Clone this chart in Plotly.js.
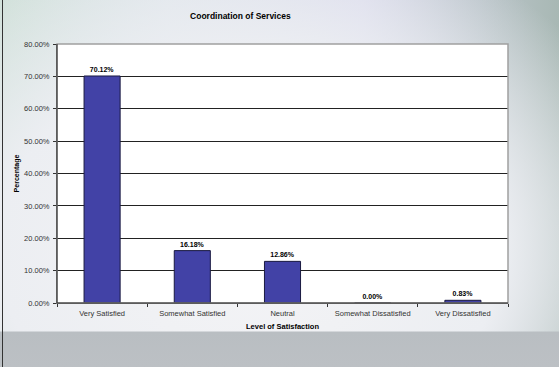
<!DOCTYPE html>
<html>
<head>
<meta charset="utf-8">
<script src="https://cdn.plot.ly/plotly-3.0.1.min.js"></script>
<style>
html,body{margin:0;padding:0;}
body{width:559px;height:367px;overflow:hidden;position:relative;
background:
 linear-gradient(to bottom, rgba(0,0,0,0) 0px, rgba(0,0,0,0) 331px, #b9bec2 332px, #bcc0c4 367px),
 radial-gradient(ellipse 420px 330px at 250px 250px, #f4f4f6 0%, #eceef2 60%, rgba(236,238,242,0) 100%),
 linear-gradient(to right, #cfe0d8 0%, #dde4ea 30%, #d8d8ec 65%, #a8b8b4 100%);
}
#leftline{position:absolute;left:2px;top:0;width:1px;height:367px;background:#333;}
#chart{position:absolute;left:0;top:0;width:559px;height:367px;}
</style>
</head>
<body>
<div id="leftline"></div>
<div id="chart"></div>
<script>
var categories = ["Very Satisfied", "Somewhat Satisfied", "Neutral", "Somewhat Dissatisfied", "Very Dissatisfied"];
var values = [70.12, 16.18, 12.86, 0.00, 0.83];
var labels = ["70.12%", "16.18%", "12.86%", "0.00%", "0.83%"];
var yTickVals = [0, 10, 20, 30, 40, 50, 60, 70, 80];
var yTickText = ["0.00%", "10.00%", "20.00%", "30.00%", "40.00%", "50.00%", "60.00%", "70.00%", "80.00%"];

var trace = {
  type: "bar",
  x: categories,
  y: values,
  text: labels,
  textposition: "outside",
  cliponaxis: false,
  textfont: {family: "Liberation Sans, Arial, sans-serif", size: 7, color: "#000", weight: "bold"},
  marker: {color: "#4242A6", line: {color: "#1a1a40", width: 1}},
  hoverinfo: "none"
};

var layout = {
  width: 559, height: 367,
  margin: {l: 57, r: 51, t: 44, b: 64, pad: 0},
  paper_bgcolor: "rgba(0,0,0,0)",
  plot_bgcolor: "#ffffff",
  bargap: 0.6,
  showlegend: false,
  font: {family: "Liberation Sans, Arial, sans-serif", size: 7, color: "#000"},
  title: {text: "<b>Coordination of Services</b>", font: {size: 8.5, color: "#000"},
          x: 0.43, xref: "container", xanchor: "center", y: 0.955, yref: "container", yanchor: "middle"},
  xaxis: {
    type: "category",
    showgrid: false,
    ticks: "outside", ticklen: 3, tickcolor: "#333", tickson: "boundaries",
    ticklabelstandoff: 3,
    showline: true, linecolor: "#333", linewidth: 1, mirror: false,
    tickfont: {size: 7.5, color: "#333"},
    title: {text: "<b>Level of Satisfaction</b>", font: {size: 7.5, color: "#000"}, standoff: 6}
  },
  yaxis: {
    range: [0, 80],
    tickvals: yTickVals, ticktext: yTickText,
    ticks: "outside", ticklen: 3, tickcolor: "#333",
    ticklabelstandoff: 2,
    showgrid: true, gridcolor: "#222", gridwidth: 1,
    showline: true, linecolor: "#333", linewidth: 1,
    zeroline: false,
    tickfont: {size: 7.5, color: "#333"},
    title: {text: "<b>Percentage</b>", font: {size: 7, color: "#000"}, standoff: 3}
  },
  shapes: [
    {type: "rect", xref: "paper", yref: "paper", x0: 0, x1: 1, y0: 0, y1: 1,
     line: {color: "#a0a0a0", width: 1.5}, fillcolor: "rgba(0,0,0,0)", layer: "above"},
    {type: "line", xref: "paper", yref: "paper", x0: 0, x1: 0, y0: 0, y1: 1,
     line: {color: "#333", width: 1}, layer: "above"},
    {type: "line", xref: "paper", yref: "paper", x0: 0, x1: 1, y0: 0, y1: 0,
     line: {color: "#333", width: 1}, layer: "above"}
  ]
};

Plotly.newPlot("chart", [trace], layout, {staticPlot: true, displayModeBar: false});
</script>
</body>
</html>
